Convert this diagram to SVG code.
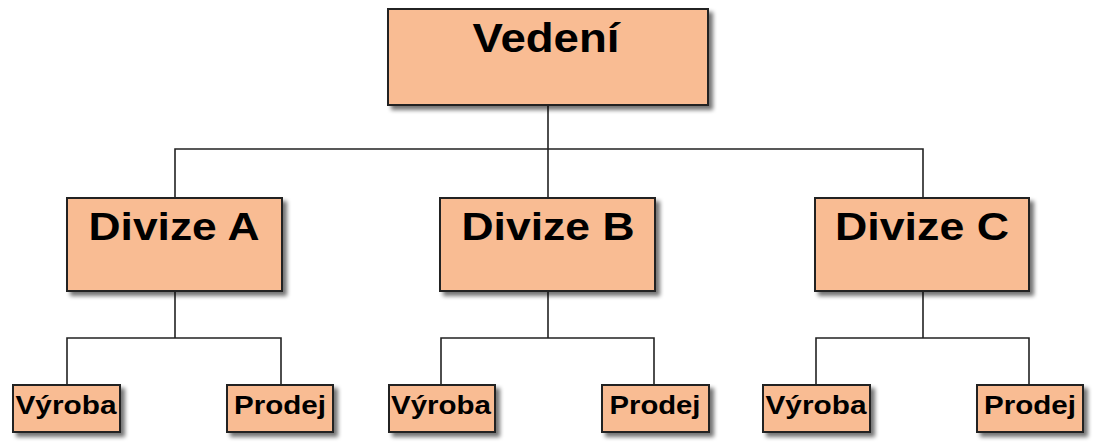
<svg xmlns="http://www.w3.org/2000/svg" width="1098" height="444" viewBox="0 0 1098 444">
<defs>
<filter id="sh" x="-10%" y="-10%" width="125%" height="130%">
<feGaussianBlur in="SourceAlpha" stdDeviation="2"/>
<feOffset dx="4" dy="4" result="b"/>
<feComponentTransfer><feFuncA type="linear" slope="0.55"/></feComponentTransfer>
<feMerge><feMergeNode/><feMergeNode in="SourceGraphic"/></feMerge>
</filter>
</defs>
<style>
.box{fill:#F9BC93;stroke:#222;stroke-width:2;filter:url(#sh)}
.t{font-family:"Liberation Sans",Arial,sans-serif;font-weight:bold;fill:#000;text-anchor:middle}
.big{font-size:41px}
.mid{font-size:38px}
.sm{font-size:26px}
.c{fill:none;stroke:#222;stroke-width:1.6}
</style>
<rect width="1098" height="444" fill="#fff"/>
<g id="connectors">
<path class="c" d="M548 105V149M175 197V149H923V197M548 149V197"/>
<path class="c" d="M175 291V338M67 385V338H281V385"/>
<path class="c" d="M548 291V338M441 385V338H654V385"/>
<path class="c" d="M923 291V338M816 385V338H1029V385"/>
</g>
<g id="vedeni"><rect class="box" x="388" y="9" width="320" height="96"/><text class="t big" x="546" y="52" textLength="147" lengthAdjust="spacingAndGlyphs">Vedení</text></g>
<g id="divizeA"><rect class="box" x="67" y="198" width="215" height="93"/><text class="t mid" x="174" y="240" textLength="171" lengthAdjust="spacingAndGlyphs">Divize A</text></g>
<g id="divizeB"><rect class="box" x="440" y="198" width="215" height="93"/><text class="t mid" x="548" y="240" textLength="173" lengthAdjust="spacingAndGlyphs">Divize B</text></g>
<g id="divizeC"><rect class="box" x="815" y="198" width="214" height="93"/><text class="t mid" x="922" y="240" textLength="174" lengthAdjust="spacingAndGlyphs">Divize C</text></g>
<g id="vyrobaA"><rect class="box" x="13" y="385" width="107" height="47"/><text class="t sm" x="66" y="414" textLength="101" lengthAdjust="spacingAndGlyphs">Výroba</text></g>
<g id="prodejA"><rect class="box" x="227" y="385" width="106" height="47"/><text class="t sm" x="280" y="414" textLength="92" lengthAdjust="spacingAndGlyphs">Prodej</text></g>
<g id="vyrobaB"><rect class="box" x="389" y="385" width="106" height="47"/><text class="t sm" x="441" y="414" textLength="100" lengthAdjust="spacingAndGlyphs">Výroba</text></g>
<g id="prodejB"><rect class="box" x="602" y="385" width="107" height="47"/><text class="t sm" x="655" y="414" textLength="91" lengthAdjust="spacingAndGlyphs">Prodej</text></g>
<g id="vyrobaC"><rect class="box" x="763" y="385" width="107" height="47"/><text class="t sm" x="816" y="414" textLength="101" lengthAdjust="spacingAndGlyphs">Výroba</text></g>
<g id="prodejC"><rect class="box" x="977" y="385" width="106" height="47"/><text class="t sm" x="1030" y="414" textLength="92" lengthAdjust="spacingAndGlyphs">Prodej</text></g>
</svg>
